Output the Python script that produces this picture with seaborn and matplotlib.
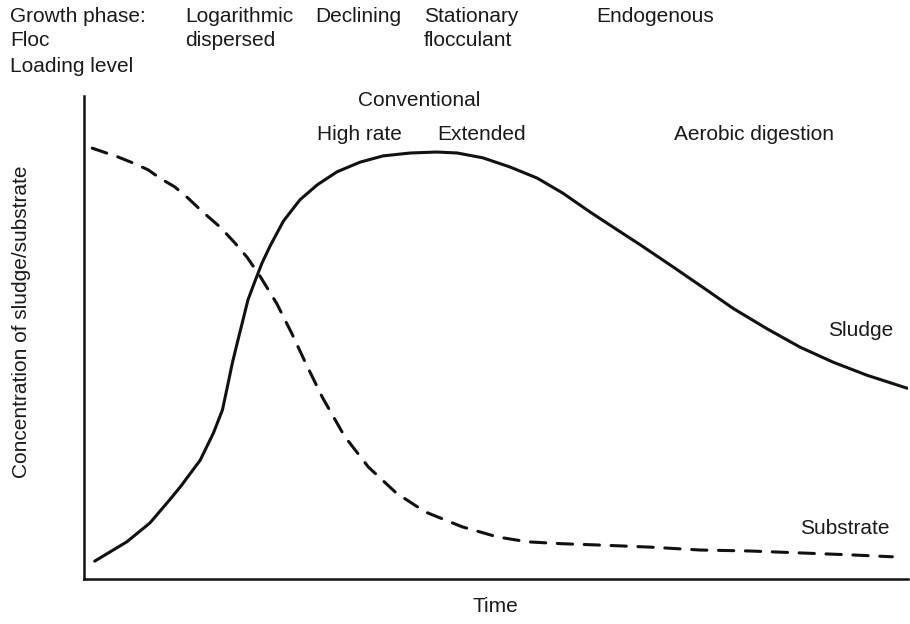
import pandas as pd
import matplotlib
matplotlib.use("Agg")
import matplotlib.pyplot as plt
import seaborn as sns

# Sludge concentration over time (arbitrary units, 0-100)
sludge_time = [1.3, 5.2, 8.0, 10.4, 11.7, 14.1, 15.7, 16.8, 17.4, 18.0, 18.6, 19.2, 19.9,
               20.8, 21.6, 22.6, 24.2, 26.2, 28.3, 30.7, 33.5, 36.3, 39.6, 42.8,
               45.3, 48.4, 51.7, 55.0, 58.1, 61.4, 64.7, 67.5, 71.5, 75.6, 78.8, 82.9,
               86.9, 90.9, 95.0, 99.9]
sludge_conc = [3.7, 7.7, 11.6, 16.4, 19.1, 24.6, 30.2, 35.0, 39.8, 44.7, 48.9, 53.0, 57.8,
               61.9, 65.4, 69.0, 74.1, 78.5, 81.6, 84.3, 86.3, 87.6, 88.2, 88.4,
               88.2, 87.2, 85.3, 83.0, 79.9, 76.0, 72.3, 69.2, 64.6, 59.8, 56.0, 51.8,
               48.0, 44.9, 42.2, 39.5]

# Substrate concentration over time
substrate_time = [1.0, 4.1, 6.0, 7.8, 9.2, 11.0, 12.6, 14.4, 16.5, 18.3, 19.8, 21.4, 23.4,
                  25.2, 26.9, 28.9, 31.6, 34.5, 37.9, 41.4, 45.9, 50.2, 53.8, 58.1, 63.0,
                  68.7, 74.8, 80.8, 86.9, 93.0, 98.1]
substrate_conc = [89.2, 87.4, 86.1, 84.7, 83.0, 81.2, 78.9, 76.0, 72.9, 69.6, 66.6, 62.6, 57.0,
                  50.9, 44.7, 37.7, 29.6, 23.2, 17.8, 13.9, 10.8, 8.7, 7.7, 7.3, 7.0,
                  6.6, 6.0, 5.8, 5.4, 5.0, 4.6]

W, H = 910, 624
sns.set_style("white")
plt.rcParams["font.family"] = ["Liberation Sans", "DejaVu Sans"]

fig = plt.figure(figsize=(W / 100, H / 100), dpi=100)
ax = fig.add_axes([84 / W, 1 - 579 / H, 824 / W, 483 / H])

sludge = pd.DataFrame({"t": sludge_time, "c": sludge_conc})
substrate = pd.DataFrame({"t": substrate_time, "c": substrate_conc})

sns.lineplot(data=sludge, x="t", y="c", ax=ax, color="#111111", linewidth=2.2,
             sort=False, estimator=None)
sns.lineplot(data=substrate, x="t", y="c", ax=ax, color="#111111", linewidth=2.2,
             sort=False, estimator=None)
ax.lines[-1].set_dashes((5.0, 3.8))
for ln in ax.lines:
    ln.set_solid_capstyle("round")
    ln.set_solid_joinstyle("round")
    ln.set_dash_capstyle("round")

ax.set_xlim(0, 100)
ax.set_ylim(0, 100)
ax.set_xticks([])
ax.set_yticks([])
ax.set_xlabel("")
ax.set_ylabel("")
for side in ("top", "right"):
    ax.spines[side].set_visible(False)
for side in ("left", "bottom"):
    ax.spines[side].set_color("#111111")
    ax.spines[side].set_linewidth(1.8)

fs = 15


def label(px, py, s, **kw):
    fig.text(px / W, 1 - py / H, s, fontsize=fs, color="#1a1a1a", va="center", **kw)


label(10, 17, "Growth phase:")
label(10, 41, "Floc")
label(10, 66, "Loading level")
label(185, 17, "Logarithmic")
label(185, 41, "dispersed")
label(315, 17, "Declining")
label(424, 17, "Stationary")
label(424, 41, "flocculant")
label(596, 17, "Endogenous")
label(358, 101, "Conventional")
label(317, 134, "High rate")
label(437, 134, "Extended")
label(674, 134, "Aerobic digestion")
label(828, 331, "Sludge")
label(800, 529, "Substrate")
label(495, 607, "Time", ha="center")
fig.text(22 / W, 1 - 322 / H, "Concentration of sludge/substrate", fontsize=fs,
         color="#1a1a1a", rotation=90, ha="center", va="center")

fig.savefig("out.png", dpi=100, facecolor="white")
